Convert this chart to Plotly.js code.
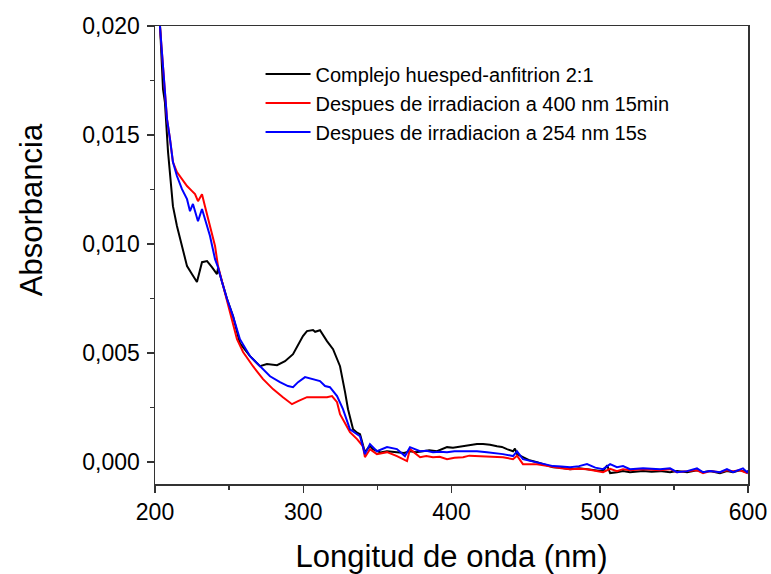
<!DOCTYPE html>
<html>
<head>
<meta charset="utf-8">
<script src="https://cdn.plot.ly/plotly-3.0.1.min.js"></script>
<style>html,body{margin:0;padding:0;background:#fff;}#chart{width:771px;height:574px;}</style>
</head>
<body>
<div id="chart"></div>
<script>
// Wavelength (nm) and absorbance
const seriesNames = [
  "Complejo huesped-anfitrion 2:1",
  "Despues de irradiacion a 400 nm 15min",
  "Despues de irradiacion a 254 nm 15s"
];

const blackX = [202.0,203.4,205.4,206.7,208.8,212.1,214.8,218.2,221.6,225.0,228.3,231.7,235.1,238.4,241.8,242.5,245.2,248.6,252.6,257.3,264.1,270.8,275.5,282.3,287.7,293.1,299.8,302.5,306.6,308.0,311.3,316.0,320.1,324.8,328.2,330.2,333.6,336.3,338.3,341.6,345.0,347.0,352.0,356.5,363.2,368.0,372.0,376.0,380.8,385.0,390.2,397.0,401.0,407.8,412.0,417.2,421.3,426.0,430.7,434.0,437.4,441.5,442.8,444.2,448.2,452.0,457.7,463.0,468.5,474.0,480.0,486.0,491.4,497.0,502.2,505.0,507.0,511.6,515.7,520.4,529.2,535.0,540.7,547.4,552.1,558.9,565.6,569.7,574.4,581.1,585.8,589.9,594.6,599.3,600.0];
const blackY = [0.0212,0.0200,0.0171,0.0165,0.01422,0.01174,0.01083,0.00991,0.00899,0.00862,0.00826,0.00917,0.00922,0.00894,0.00862,0.00890,0.00826,0.00748,0.00670,0.00545,0.00486,0.00440,0.00450,0.00445,0.00463,0.00495,0.00578,0.00601,0.00606,0.00598,0.00605,0.00555,0.00518,0.00440,0.00321,0.00243,0.00151,0.00135,0.00128,0.00046,0.00075,0.00060,0.00045,0.00050,0.00046,0.00042,0.00050,0.00046,0.00050,0.00055,0.00050,0.00069,0.00066,0.00073,0.00080,0.00083,0.00083,0.00080,0.00073,0.00070,0.00060,0.00050,0.00062,0.00037,0.00023,0.00010,0.00000,-0.00010,-0.00023,-0.00025,-0.00032,-0.00028,-0.00032,-0.00035,-0.00041,-0.00015,-0.00050,-0.00046,-0.00040,-0.00046,-0.00040,-0.00044,-0.00041,-0.00046,-0.00041,-0.00046,-0.00037,-0.00046,-0.00041,-0.00050,-0.00041,-0.00046,-0.00037,-0.00046,-0.00040];

const redX = [202.0,203.4,208.1,210.1,212.1,214.8,218.2,221.6,225.0,227.0,229.0,231.7,233.7,237.1,240.5,242.5,245.2,248.6,250.6,255.3,259.4,266.1,272.9,279.6,286.3,292.4,296.5,302.5,309.3,316.0,319.4,322.8,324.8,331.5,336.3,340.3,341.6,345.0,349.7,356.5,363.2,370.0,372.0,378.8,383.0,387.5,392.0,397.0,402.0,407.8,412.0,417.2,423.9,429.0,434.7,441.5,444.2,448.2,457.7,463.0,468.5,474.0,480.0,486.0,491.4,497.0,502.2,507.0,511.6,515.7,520.4,529.2,535.0,540.7,547.4,552.1,558.9,565.6,569.7,574.4,581.1,585.8,589.9,594.6,599.3,600.0];
const redY = [0.0212,0.0200,0.01573,0.01482,0.01376,0.01330,0.01298,0.01266,0.01243,0.01229,0.01197,0.01229,0.01174,0.01083,0.00991,0.00899,0.00826,0.00748,0.00693,0.00564,0.00505,0.00440,0.00381,0.00335,0.00298,0.00266,0.00280,0.00298,0.00298,0.00298,0.00303,0.00275,0.00220,0.00138,0.00106,0.00073,0.00023,0.00060,0.00037,0.00046,0.00028,0.00005,0.00060,0.00023,0.00028,0.00023,0.00025,0.00014,0.00020,0.00023,0.00030,0.00028,0.00028,0.00025,0.00023,0.00014,0.00030,-0.00009,-0.00009,-0.00015,-0.00023,-0.00028,-0.00032,-0.00030,-0.00032,-0.00038,-0.00046,-0.00030,-0.00041,-0.00032,-0.00037,-0.00032,-0.00036,-0.00037,-0.00032,-0.00046,-0.00041,-0.00037,-0.00050,-0.00041,-0.00046,-0.00037,-0.00041,-0.00037,-0.00050,-0.00042];

const blueX = [202.0,203.4,208.1,210.1,212.1,214.8,218.2,221.6,223.6,225.6,228.3,229.0,231.7,233.7,237.1,240.5,242.5,245.2,248.6,252.6,255.3,257.3,264.1,270.8,277.6,284.3,289.7,293.1,296.5,301.2,306.6,311.3,314.7,318.0,322.8,326.8,331.5,338.3,341.6,345.0,349.7,356.5,363.2,368.6,372.0,378.8,383.0,387.5,392.0,397.0,402.0,407.8,412.0,417.2,423.9,429.0,434.7,441.5,444.2,448.2,457.7,463.0,468.5,474.0,480.0,486.0,491.4,497.0,502.2,507.0,511.6,515.7,520.4,529.2,535.0,540.7,547.4,552.1,558.9,565.6,569.7,574.4,581.1,585.8,589.9,594.6,596.6,599.3,600.0];
const blueY = [0.0212,0.0200,0.01573,0.01482,0.01376,0.01312,0.01252,0.01206,0.01151,0.01184,0.01128,0.01105,0.01161,0.01115,0.01037,0.00931,0.00894,0.00826,0.00748,0.00670,0.00610,0.00564,0.00486,0.00440,0.00394,0.00367,0.00349,0.00344,0.00367,0.00390,0.00381,0.00372,0.00349,0.00344,0.00303,0.00243,0.00151,0.00119,0.00037,0.00083,0.00050,0.00069,0.00060,0.00028,0.00069,0.00050,0.00052,0.00046,0.00048,0.00046,0.00050,0.00050,0.00053,0.00050,0.00046,0.00042,0.00037,0.00028,0.00050,0.00014,0.00000,-0.00010,-0.00018,-0.00020,-0.00023,-0.00018,-0.00009,-0.00025,-0.00032,-0.00009,-0.00023,-0.00018,-0.00032,-0.00028,-0.00030,-0.00032,-0.00028,-0.00046,-0.00041,-0.00028,-0.00046,-0.00041,-0.00046,-0.00032,-0.00046,-0.00032,-0.00028,-0.00046,-0.00038];

const lineColors = ["#000000", "#ff0000", "#0000ff"];

const traces = [
  {x: blackX, y: blackY, name: seriesNames[0], type: "scatter", mode: "lines", line: {color: lineColors[0], width: 2}},
  {x: redX, y: redY, name: seriesNames[1], type: "scatter", mode: "lines", line: {color: lineColors[1], width: 2}},
  {x: blueX, y: blueY, name: seriesNames[2], type: "scatter", mode: "lines", line: {color: lineColors[2], width: 2}}
];

const fontFamily = "Liberation Sans, Arial, sans-serif";

const layout = {
  width: 771, height: 574,
  margin: {l: 155, r: 23, t: 26, b: 90},
  paper_bgcolor: "#ffffff", plot_bgcolor: "#ffffff",
  separators: ",.",
  font: {family: fontFamily, color: "#000"},
  showlegend: true,
  legend: {
    x: 0.178, y: 0.938, xanchor: "left", yanchor: "top",
    bgcolor: "rgba(0,0,0,0)", borderwidth: 0,
    font: {family: fontFamily, size: 20, color: "#000"},
    itemwidth: 45, tracegroupgap: 0
  },
  xaxis: {
    range: [200, 600], dtick: 100, tick0: 200,
    showgrid: false, zeroline: false,
    showline: true, linecolor: "#333", linewidth: 1.5, mirror: true,
    ticks: "outside", ticklen: 7, tickwidth: 1.5, tickcolor: "#333",
    minor: {dtick: 50, tick0: 200, ticks: "outside", ticklen: 4, tickwidth: 1.5, tickcolor: "#333", showgrid: false},
    tickfont: {family: fontFamily, size: 23, color: "#000"},
    title: {text: "Longitud de onda (nm)", font: {family: fontFamily, size: 31, color: "#000"}, standoff: 24},
    automargin: false
  },
  yaxis: {
    range: [-0.001, 0.020], dtick: 0.005, tick0: 0,
    tickformat: ".3f",
    showgrid: false, zeroline: false,
    showline: true, linecolor: "#333", linewidth: 1.5, mirror: true,
    ticks: "outside", ticklen: 7, tickwidth: 1.5, tickcolor: "#333",
    minor: {dtick: 0.0025, tick0: 0, ticks: "outside", ticklen: 4, tickwidth: 1.5, tickcolor: "#333", showgrid: false},
    tickfont: {family: fontFamily, size: 23, color: "#000"},
    ticklabelstandoff: 2,
    automargin: false
  },
  annotations: [{
    text: "Absorbancia", textangle: -90,
    xref: "paper", yref: "paper", x: -0.209, y: 0.598,
    xanchor: "center", yanchor: "middle", showarrow: false,
    font: {family: fontFamily, size: 31, color: "#000"}
  }]
};

Plotly.newPlot("chart", traces, layout, {staticPlot: true, displayModeBar: false});
</script>
</body>
</html>
